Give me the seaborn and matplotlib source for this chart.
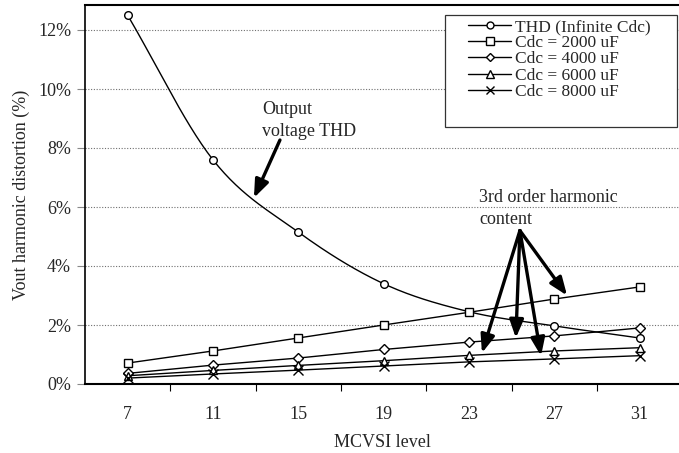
import numpy as np
import pandas as pd
import matplotlib
matplotlib.use("Agg")
import matplotlib.pyplot as plt
from matplotlib.lines import Line2D
from matplotlib.patches import Rectangle
import seaborn as sns

# MCVSI level and distortion values (%)
levels = [7, 11, 15, 19, 23, 27, 31]
thd_infinite = [12.5, 7.6, 5.15, 3.4, 2.45, 1.97, 1.56]
h3_2000uf = [0.71, 1.12, 1.56, 2.0, 2.43, 2.88, 3.29]
h3_4000uf = [0.36, 0.64, 0.88, 1.17, 1.42, 1.63, 1.9]
h3_6000uf = [0.28, 0.46, 0.63, 0.79, 0.97, 1.12, 1.23]
h3_8000uf = [0.2, 0.34, 0.47, 0.61, 0.75, 0.85, 0.96]

series_names = ["THD (Infinite Cdc)", "Cdc = 2000 uF", "Cdc = 4000 uF",
                "Cdc = 6000 uF", "Cdc = 8000 uF"]
series_values = [thd_infinite, h3_2000uf, h3_4000uf, h3_6000uf, h3_8000uf]
series_markers = ["o", "s", "D", "^", "x"]
y_ticks = [0, 2, 4, 6, 8, 10, 12]

sns.set_theme(style="white")
plt.rcParams["font.family"] = ["Liberation Serif", "DejaVu Serif"]

W, H = 679, 453
fig = plt.figure(figsize=(W / 100, H / 100), dpi=100)
ax = fig.add_axes([85 / W, 69 / H, 594 / W, 379 / H])


def catmull_rom(x, y, n=30):
    """Smooth curve through the points (Catmull-Rom spline)."""
    x = np.asarray(x, float)
    y = np.asarray(y, float)
    px = np.concatenate([[2 * x[0] - x[1]], x, [2 * x[-1] - x[-2]]])
    py = np.concatenate([[2 * y[0] - y[1]], y, [2 * y[-1] - y[-2]]])
    xs, ys = [], []
    t = np.linspace(0, 1, n, endpoint=False)
    for i in range(1, len(px) - 2):
        for P, out in ((px, xs), (py, ys)):
            p0, p1, p2, p3 = P[i - 1], P[i], P[i + 1], P[i + 2]
            out.extend(0.5 * ((2 * p1) + (-p0 + p2) * t
                              + (2 * p0 - 5 * p1 + 4 * p2 - p3) * t ** 2
                              + (-p0 + 3 * p1 - 3 * p2 + p3) * t ** 3))
    xs.append(x[-1])
    ys.append(y[-1])
    return np.array(xs), np.array(ys)


marker_sizes = {"o": 5.5, "s": 6, "D": 5, "^": 6, "x": 6.5}

for name, vals, mk in zip(series_names, series_values, series_markers):
    if name.startswith("THD"):
        sx, sy = catmull_rom(levels, vals)
        sns.lineplot(x=sx, y=sy, ax=ax, color="black", lw=1.0, sort=False,
                     estimator=None, zorder=3)
    else:
        sns.lineplot(x=levels, y=vals, ax=ax, color="black", lw=1.0,
                     estimator=None, zorder=3)
    df = pd.DataFrame({"level": levels, "value": vals})
    ax.plot(df["level"], df["value"], linestyle="none", marker=mk,
            ms=marker_sizes[mk], mfc="white" if mk != "x" else "black",
            mec="black", mew=1.0, zorder=4)

# Axes layout
ax.set_xlim(5, 5 + 594 / 21.33)
ax.set_ylim(0, 379 / 29.5)
ax.set_xticks(np.arange(9, 33, 4))
ax.set_xticklabels([])
ax.set_xticks(levels, minor=True)
ax.set_xticklabels([str(v) for v in levels], minor=True)
ax.tick_params(axis="x", which="major", direction="out", length=5,
               width=0.8, color="black", bottom=True)
ax.tick_params(axis="x", which="minor", length=0, pad=16, labelsize=13)
ax.set_yticks(y_ticks)
ax.set_yticklabels([f"{v}%" for v in y_ticks])
ax.tick_params(axis="y", direction="out", length=6, width=0.8,
               color="#888888", left=True, pad=4, labelsize=13)

ax.grid(False)
for v in y_ticks[1:]:
    ax.axhline(v, color="#707070", lw=0.8, ls=(0, (1, 1.5)), zorder=1)

for side in ("left", "bottom", "top"):
    ax.spines[side].set_visible(True)
    ax.spines[side].set_color("black")
ax.spines["left"].set_linewidth(1.2)
ax.spines["bottom"].set_linewidth(1.5)
ax.spines["top"].set_linewidth(1.5)
ax.spines["right"].set_visible(False)

ax.set_xlabel("MCVSI level", fontsize=13, labelpad=8)
ax.set_ylabel("Vout harmonic distortion (%)", fontsize=13, labelpad=6)

# Annotations
arrow_kw = dict(arrowstyle="-|>,head_length=0.9,head_width=0.35", lw=2.4,
                color="black", shrinkA=0, shrinkB=0)
ax.text(13.3, 9.6, "Output\nvoltage THD", fontsize=13, va="top", ha="left",
        linespacing=1.4, zorder=5)
ax.annotate("", xy=(12.92, 6.31), xytext=(14.14, 8.27),
            arrowprops=arrow_kw, zorder=5)

ax.text(23.47, 6.6, "3rd order harmonic\ncontent", fontsize=13, va="top",
        ha="left", linespacing=1.4, zorder=5)
origin = (25.39, 5.2)
for tip in [(23.61, 1.05), (25.2, 1.56), (26.38, 0.95), (27.6, 3.0)]:
    ax.annotate("", xy=tip, xytext=origin, arrowprops=arrow_kw, zorder=5)

# Legend box and entries
frame = Rectangle((445 / W, 1 - 127 / H), 232 / W, 112 / H,
                  transform=fig.transFigure, facecolor="white",
                  edgecolor="#333333", lw=0.9, zorder=4)
fig.add_artist(frame)
handles = [Line2D([], [], color="black", lw=1.0, marker=mk,
                  ms=marker_sizes[mk] - 0.5,
                  mfc="white" if mk != "x" else "black", mec="black", mew=1.0)
           for mk in series_markers]
leg = fig.legend(handles, series_names, loc="upper left",
                 bbox_to_anchor=(468 / W, 1 - 19 / H), frameon=False,
                 fontsize=12.5, handlelength=2.5, handletextpad=0.2,
                 labelspacing=0.0, borderpad=0, borderaxespad=0)
leg.set_zorder(6)

fig.savefig("out.png", dpi=100)
